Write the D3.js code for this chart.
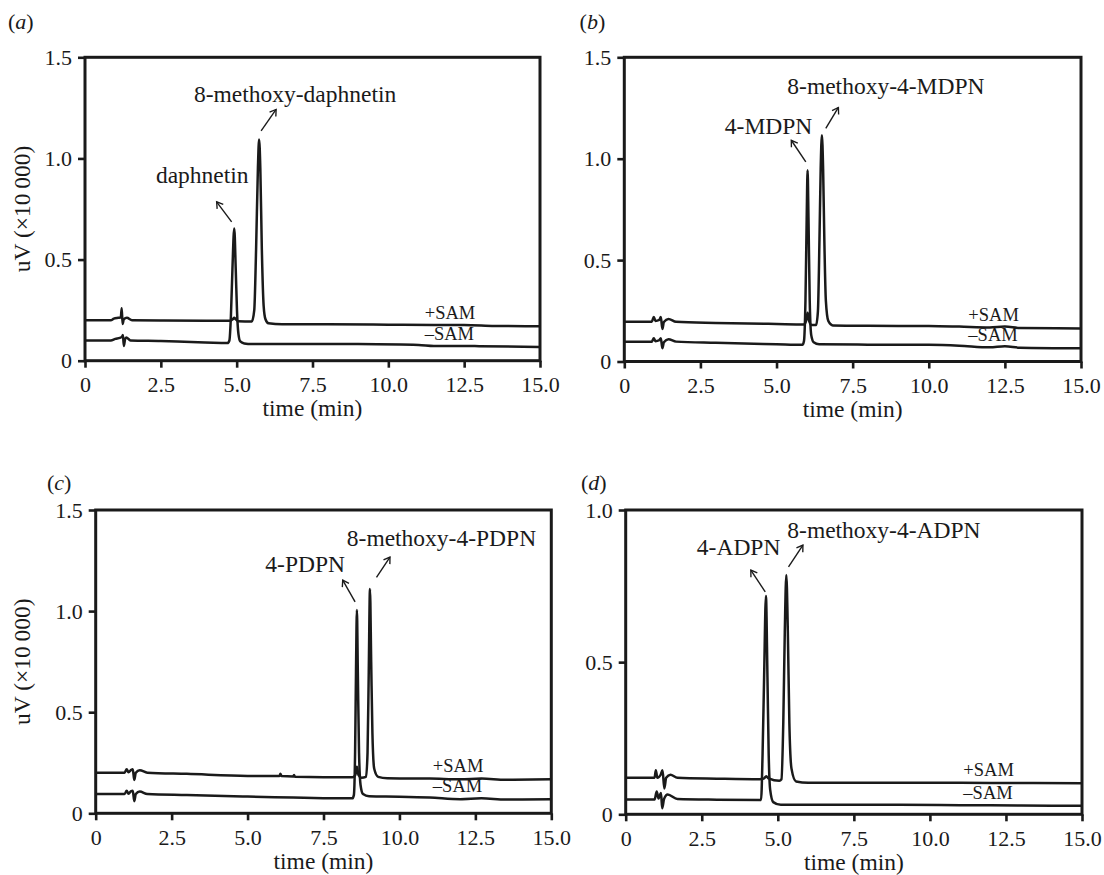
<!DOCTYPE html>
<html>
<head>
<meta charset="utf-8">
<script src="https://cdn.jsdelivr.net/npm/d3@7"></script>
<style>
    body { margin: 0; background: #fff; }
    svg text { font-family: "Liberation Serif", "Times New Roman", serif; fill: #1a1a1a; }
    .frame { fill: none; stroke: #1a1a1a; stroke-width: 3; }
    .axis path { display: none; }
    .axis line { stroke: #1a1a1a; stroke-width: 2.6; }
    .axis text { font-size: 22px; }
    .trace { fill: none; stroke: #1a1a1a; stroke-width: 2.5; stroke-linejoin: round; }
    .note { font-size: 23.5px; }
    .sam { font-size: 18.5px; }
    .title { font-size: 23.5px; }
    .letter { font-size: 22px; }
    .arrow { fill: none; stroke: #1a1a1a; stroke-width: 1.4; }
</style>
</head>
<body>
<script>

// ---- data ----
var xTicks = [0, 2.5, 5, 7.5, 10, 12.5, 15];
var xTickLabels = ["0", "2.5", "5.0", "7.5", "10.0", "12.5", "15.0"];
var yTicksTall = [0, 0.5, 1, 1.5];
var yTickLabelsTall = ["0", "0.5", "1.0", "1.5"];
var yTicksShort = [0, 0.5, 1];
var yTickLabelsShort = ["0", "0.5", "1.0"];
var xTitle = "time (min)";
var yTitle = "uV (\u00d710\u2009000)";
var samLabels = ["+SAM", "\u2013SAM"];
var panelLetters = ["a", "b", "c", "d"];

// (a) daphnetin
var minusA = [[0, 0.100], [0.85, 0.100], [1.0, 0.108], [1.15, 0.113], [1.22, 0.118], [1.25, 0.127], [1.28, 0.073],
    [1.32, 0.105], [1.36, 0.115], [1.5, 0.100], [2.5, 0.097], [3.5, 0.092], [4.5, 0.088], [4.70, 0.087],
    [4.76, 0.10], [4.81, 0.22], [4.86, 0.45], [4.92, 0.654], [4.97, 0.45], [5.01, 0.25], [5.06, 0.13],
    [5.12, 0.095], [5.25, 0.085], [5.5, 0.082], [7, 0.083], [9, 0.082], [11, 0.078], [11.5, 0.073],
    [13, 0.072], [15, 0.068]];
var plusA = [[0, 0.200], [0.85, 0.200], [0.95, 0.208], [1.1, 0.212], [1.18, 0.214], [1.21, 0.259], [1.24, 0.181],
    [1.28, 0.205], [1.38, 0.212], [1.55, 0.200], [2.5, 0.199], [4.0, 0.198], [4.8, 0.198], [4.87, 0.205],
    [4.92, 0.212], [4.97, 0.205], [5.05, 0.195], [5.5, 0.194], [5.58, 0.25], [5.64, 0.55], [5.70, 0.95],
    [5.74, 1.094], [5.78, 0.95], [5.83, 0.55], [5.89, 0.27], [5.95, 0.205], [6.05, 0.185], [6.5, 0.180],
    [8, 0.180], [10, 0.178], [11.5, 0.176], [12.5, 0.177], [13.5, 0.172], [15, 0.170]];
var peaksA = [{name: "daphnetin", t: 4.92, v: 0.654}, {name: "8-methoxy-daphnetin", t: 5.74, v: 1.094}];

// (b) 4-MDPN
var minusB = [[0, 0.098], [0.9, 0.098], [0.97, 0.115], [1.02, 0.100], [1.15, 0.105], [1.2, 0.115], [1.25, 0.065],
    [1.3, 0.095], [1.45, 0.110], [1.7, 0.098], [3, 0.092], [5, 0.085], [5.85, 0.082], [5.9, 0.10], [5.95, 0.30],
    [5.99, 0.70], [6.02, 0.943], [6.05, 0.70], [6.09, 0.30], [6.14, 0.13], [6.22, 0.095], [6.4, 0.085],
    [8, 0.083], [10, 0.082], [11, 0.078], [12, 0.070], [12.5, 0.075], [13, 0.068], [15, 0.065]];
var plusB = [[0, 0.196], [0.9, 0.196], [0.97, 0.220], [1.02, 0.200], [1.15, 0.205], [1.2, 0.220], [1.25, 0.160],
    [1.3, 0.195], [1.45, 0.210], [1.7, 0.196], [3, 0.190], [5, 0.185], [5.9, 0.183], [5.97, 0.20], [6.02, 0.24],
    [6.07, 0.20], [6.15, 0.180], [6.3, 0.180], [6.36, 0.25], [6.41, 0.60], [6.45, 0.95], [6.49, 1.116],
    [6.53, 0.95], [6.57, 0.60], [6.62, 0.30], [6.7, 0.20], [6.85, 0.178], [8, 0.176], [10, 0.175],
    [11, 0.172], [12, 0.168], [12.5, 0.172], [13, 0.165], [15, 0.163]];
var peaksB = [{name: "4-MDPN", t: 6.02, v: 0.943}, {name: "8-methoxy-4-MDPN", t: 6.49, v: 1.116}];

// (c) 4-PDPN
var minusC = [[0, 0.095], [0.95, 0.095], [1.02, 0.112], [1.08, 0.097], [1.17, 0.110], [1.22, 0.112], [1.27, 0.060],
    [1.32, 0.095], [1.45, 0.108], [1.7, 0.095], [3, 0.090], [5, 0.083], [6.5, 0.078], [7.5, 0.075], [8.45, 0.074],
    [8.5, 0.09], [8.54, 0.30], [8.57, 0.70], [8.60, 1.005], [8.63, 0.70], [8.67, 0.30], [8.72, 0.14],
    [8.8, 0.095], [9, 0.084], [10, 0.082], [11, 0.078], [12, 0.070], [12.7, 0.074], [13.5, 0.068], [15, 0.069]];
var plusC = [[0, 0.201], [0.95, 0.201], [1.02, 0.218], [1.08, 0.203], [1.17, 0.215], [1.22, 0.218], [1.27, 0.165],
    [1.32, 0.200], [1.45, 0.213], [1.7, 0.201], [3, 0.195], [5, 0.185], [6.05, 0.184], [6.08, 0.195],
    [6.12, 0.184], [6.5, 0.182], [6.53, 0.190], [6.56, 0.181], [8.45, 0.178], [8.55, 0.19], [8.6, 0.23],
    [8.65, 0.19], [8.75, 0.176], [8.9, 0.18], [8.95, 0.30], [8.99, 0.70], [9.03, 1.109], [9.07, 0.75],
    [9.11, 0.40], [9.17, 0.22], [9.3, 0.18], [9.6, 0.173], [11, 0.172], [12, 0.168], [12.7, 0.172],
    [13.5, 0.166], [15, 0.168]];
var peaksC = [{name: "4-PDPN", t: 8.60, v: 1.005}, {name: "8-methoxy-4-PDPN", t: 9.03, v: 1.109}];

// (d) 4-ADPN
var minusD = [[0, 0.049], [0.95, 0.049], [1.02, 0.075], [1.08, 0.052], [1.16, 0.070], [1.2, 0.020], [1.26, 0.050],
    [1.38, 0.065], [1.7, 0.050], [3, 0.048], [4.45, 0.047], [4.5, 0.20], [4.55, 0.45], [4.61, 0.717],
    [4.66, 0.45], [4.7, 0.20], [4.75, 0.08], [4.85, 0.040], [5.1, 0.031], [7, 0.031], [9, 0.031],
    [11, 0.030], [13, 0.029], [15, 0.028]];
var plusD = [[0, 0.120], [0.95, 0.120], [0.99, 0.145], [1.04, 0.120], [1.15, 0.130], [1.21, 0.145], [1.27, 0.085],
    [1.33, 0.120], [1.47, 0.130], [1.7, 0.120], [3, 0.117], [4.4, 0.115], [4.55, 0.118], [4.62, 0.125],
    [4.7, 0.118], [5.05, 0.110], [5.12, 0.115], [5.18, 0.30], [5.23, 0.60], [5.28, 0.786], [5.33, 0.60],
    [5.38, 0.30], [5.45, 0.15], [5.6, 0.108], [6, 0.104], [9, 0.104], [12, 0.103], [15, 0.102]];
var peaksD = [{name: "4-ADPN", t: 4.61, v: 0.717}, {name: "8-methoxy-4-ADPN", t: 5.28, v: 0.786}];


// ---- layout ----
var svg = d3.select("body").append("svg")
    .attr("width", 1104)
    .attr("height", 875);

svg.append("defs").html('<marker id="arrowhead" viewBox="-10 -10 20 20" refX="0" refY="0" markerWidth="17" markerHeight="17" markerUnits="userSpaceOnUse" orient="auto"><polyline fill="none" stroke="#1a1a1a" stroke-width="1.6" points="-7,-4.5 0,0 -7,4.5"></polyline></marker>');


function panel() {

    var left = 0
        , top = 0
        , width = 455
        , height = 303
        , ymax = 1.5
        , yticks = yTicksTall
        , ylabels = yTickLabelsTall
        , plus
        , minus
        , peaks
        , notes
        , letter
        , letterAt = [0, 0]
        , withTitle = true
        , samAt = 11.2
        ;

    function my(selection) {
        var g = selection.append("g")
            .attr("transform", "translate(" + left + "," + top + ")");

        var x = d3.scaleLinear().domain([0, 15]).range([0, width]);
        var y = d3.scaleLinear().domain([0, ymax]).range([height, 0]);

        var line = d3.line()
            .x(function(d) { return x(d[0]); })
            .y(function(d) { return y(d[1]); })
            .curve(d3.curveMonotoneX);

        g.append("g")
            .attr("class", "axis axis--x")
            .attr("transform", "translate(0," + height + ")")
            .call(d3.axisBottom(x)
                .tickValues(xTicks)
                .tickFormat(function(d, i) { return xTickLabels[i]; })
                .tickSizeOuter(0)
                .tickSizeInner(7)
                .tickPadding(9));

        g.append("g")
            .attr("class", "axis axis--y")
            .call(d3.axisLeft(y)
                .tickValues(yticks)
                .tickFormat(function(d, i) { return ylabels[i]; })
                .tickSizeOuter(0)
                .tickSizeInner(7)
                .tickPadding(6));

        g.append("rect")
            .attr("class", "frame")
            .attr("width", width)
            .attr("height", height);

        g.append("path").datum(minus).attr("class", "trace").attr("d", line);
        g.append("path").datum(plus).attr("class", "trace").attr("d", line);

        // +SAM / -SAM labels sit just above the tail of each trace
        [plus, minus].forEach(function(trace, i) {
            g.append("text")
                .attr("class", "sam")
                .attr("x", x(samAt))
                .attr("y", y(trace[trace.length - 1][1]) - 7)
                .text(samLabels[i]);
        });

        peaks.forEach(function(p, i) {
            var n = notes[i]
                , px = x(p.t)
                , py = y(p.v);

            g.append("text")
                .attr("class", "note")
                .attr("text-anchor", "middle")
                .attr("x", px + n.dx)
                .attr("y", py + n.dy)
                .text(p.name);

            g.append("path")
                .attr("class", "arrow")
                .attr("marker-end", "url(#arrowhead)")
                .attr("d", "M" + (px + n.tail[0]) + "," + (py + n.tail[1]) +
                    "L" + (px + n.head[0]) + "," + (py + n.head[1]));
        });

        g.append("text")
            .attr("class", "title")
            .attr("text-anchor", "middle")
            .attr("x", width / 2)
            .attr("y", height + 55.5)
            .text(xTitle);

        if (withTitle) {
            g.append("text")
                .attr("class", "title")
                .attr("text-anchor", "middle")
                .attr("transform", "translate(" + (30 - left) + "," + height / 2 + ") rotate(-90)")
                .text(yTitle);
        }

        var lt = g.append("text")
            .attr("class", "letter")
            .attr("x", letterAt[0] - left)
            .attr("y", letterAt[1] - top);
        lt.append("tspan").text("(");
        lt.append("tspan").attr("font-style", "italic").text(letter);
        lt.append("tspan").text(")");
    }

    my.box = function(l, t, w, h) {
        left = l; top = t; width = w; height = h;
        return my;
    };

    my.scale = function(max, ticks, labels) {
        ymax = max; yticks = ticks; ylabels = labels;
        return my;
    };

    my.traces = function(p, m) {
        plus = p; minus = m;
        return my;
    };

    my.peaks = function(value, layout) {
        peaks = value; notes = layout;
        return my;
    };

    my.letter = function(value, at) {
        letter = value; letterAt = at;
        return my;
    };

    my.withTitle = function(value) {
        if (!arguments.length) return withTitle;
        withTitle = value;
        return my;
    };

    my.samAt = function(value) {
        if (!arguments.length) return samAt;
        samAt = value;
        return my;
    };

    return my;
}


svg.call(panel()
    .box(85, 57.3, 455, 303.4)
    .traces(plusA, minusA)
    .peaks(peaksA, [
        {dx: -32, dy: -45, tail: [-2.6, -6.6], head: [-17.6, -26.6]},
        {dx: 36, dy: -37.6, tail: [2, -8.6], head: [17, -30]}])
    .letter(panelLetters[0], [8, 29])
    .samAt(11.2));

svg.call(panel()
    .box(624.3, 57.3, 456.7, 304.2)
    .traces(plusB, minusB)
    .peaks(peaksB, [
        {dx: -39, dy: -36.7, tail: [-1.8, -8.3], head: [-16.3, -30]},
        {dx: 64, dy: -40.7, tail: [3.9, -6.7], head: [16.5, -27.7]}])
    .letter(panelLetters[1], [579.6, 29])
    .withTitle(false)
    .samAt(11.3));

svg.call(panel()
    .box(95.7, 510, 455.6, 303.3)
    .traces(plusC, minusC)
    .peaks(peaksC, [
        {dx: -51.7, dy: -38.3, tail: [-1.8, -8.3], head: [-14.2, -30]},
        {dx: 71.5, dy: -43, tail: [6.5, -11.7], head: [20, -32]}])
    .letter(panelLetters[2], [47, 490])
    .samAt(11.1));

svg.call(panel()
    .box(625.7, 510, 456.3, 304.3)
    .scale(1.0, yTicksShort, yTickLabelsShort)
    .traces(plusD, minusD)
    .peaks(peaksD, [
        {dx: -27.3, dy: -41, tail: [-0.7, -4.3], head: [-15.1, -26]},
        {dx: 97.6, dy: -37.3, tail: [2.2, -8.3], head: [16.6, -30]}])
    .letter(panelLetters[3], [581, 490])
    .withTitle(false)
    .samAt(11.1));

</script>
</body>
</html>
